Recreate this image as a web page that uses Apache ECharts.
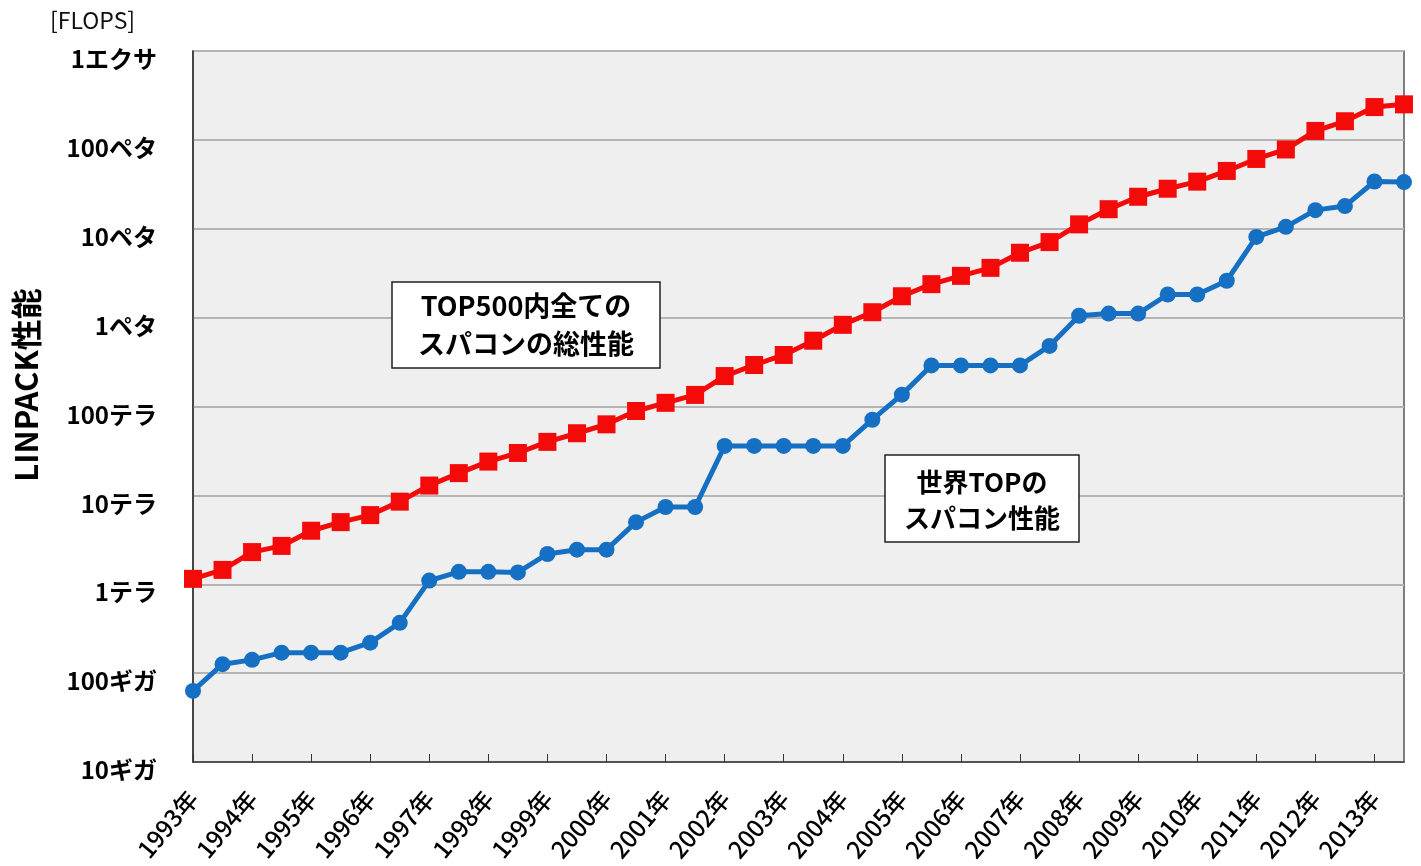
<!DOCTYPE html>
<html>
<head>
<meta charset="utf-8">
<script src="https://cdn.jsdelivr.net/npm/echarts@6/dist/echarts.min.js"></script>
<style>
  html, body { margin: 0; padding: 0; background: #fff; }
  #chart { width: 1421px; height: 866px; }
</style>
</head>
<body>
<div id="chart"></div>
<script>
// TOP500 lists, June and November of each year
var listDates = [];
for (var y = 1993; y <= 2013; y++) {
    listDates.push(y + '/06');
    listDates.push(y + '/11');
}

// TFLOPS
var totalPerf = [1.15, 1.45, 2.3, 2.7, 4.0, 5.0, 6.0, 8.5, 12.9, 17.8, 24, 30, 40, 50,
    63, 89, 110, 135, 220, 293, 380, 550, 830, 1150, 1740, 2380, 2950, 3630, 5370, 7080,
    11200, 16600, 22900, 28200, 33900, 44700, 61000, 78000, 126000, 162000, 234000, 251000];
var topPerf = [0.063, 0.126, 0.141, 0.17, 0.17, 0.17, 0.22, 0.368, 1.10, 1.38, 1.38, 1.36,
    2.19, 2.45, 2.45, 5.0, 7.4, 7.4, 36, 36, 36, 36, 36, 71, 136, 290, 290, 290, 290, 480,
    1050, 1110, 1110, 1820, 1820, 2600, 8100, 10500, 16200, 18000, 34000, 33500];

// y tick labels from 10 GFLOPS (1e10) to 1 EFLOPS (1e18)
var yTickLabels = ['10ギガ', '100ギガ', '1テラ', '10テラ', '100テラ', '1ペタ', '10ペタ', '100ペタ', '1エクサ'];

var FONT = '"Noto Sans CJK JP", "Noto Sans", sans-serif';

function toGiga(arr) {
    return arr.map(function (v) { return v * 1000; });
}

var chart = echarts.init(document.getElementById('chart'));

var option = {
    backgroundColor: '#fff',
    animation: false,
    grid: {
        left: 193,
        top: 51,
        right: 17,
        bottom: 104,
        show: true,
        backgroundColor: '#efefef',
        borderColor: '#555',
        borderWidth: 1.5
    },
    graphic: [
        {
            type: 'text',
            left: 50,
            top: 9,
            style: { text: '[FLOPS]', font: '23px ' + FONT, fill: '#111' }
        },
        {
            // y axis title, placed by hand like the original
            type: 'text',
            x: 26, y: 385,
            rotation: Math.PI / 2,
            style: {
                text: 'LINPACK性能',
                font: 'bold 31px ' + FONT, fill: '#000',
                align: 'center', verticalAlign: 'middle'
            }
        },
        {
            type: 'rect',
            shape: { x: 392, y: 282, width: 268, height: 86 },
            style: { fill: '#fff', stroke: '#222', lineWidth: 1.5 },
            z: 10
        },
        {
            type: 'text',
            x: 526, y: 325,
            style: {
                text: 'TOP500内全ての\nスパコンの総性能',
                font: 'bold 27px ' + FONT, fill: '#000',
                align: 'center', verticalAlign: 'middle', lineHeight: 38
            },
            z: 11
        },
        {
            type: 'rect',
            shape: { x: 885, y: 455, width: 194, height: 87 },
            style: { fill: '#fff', stroke: '#222', lineWidth: 1.5 },
            z: 10
        },
        {
            type: 'text',
            x: 982, y: 500,
            style: {
                text: '世界TOPの\nスパコン性能',
                font: 'bold 26px ' + FONT, fill: '#000',
                align: 'center', verticalAlign: 'middle', lineHeight: 36
            },
            z: 11
        }
    ],
    xAxis: {
        type: 'category',
        data: listDates,
        boundaryGap: false,
        axisLine: { lineStyle: { color: '#333', width: 1.5 } },
        axisTick: { inside: true, interval: 1, length: 8, lineStyle: { color: '#333' } },
        axisLabel: {
            interval: 1,
            rotate: 50,
            margin: 32,
            color: '#000',
            fontFamily: FONT,
            fontSize: 24,
            fontWeight: 500,
            formatter: function (v) { return v.slice(0, 4) + '年'; }
        },
        splitLine: { show: false }
    },
    yAxis: {
        type: 'log',
        logBase: 10,
        min: 10,
        max: 1e9,
        splitNumber: 8,
        axisLine: { show: true, lineStyle: { color: '#333', width: 1.5 } },
        axisTick: { show: false },
        axisLabel: {
            margin: 36,
            color: '#000',
            fontFamily: FONT,
            fontSize: 24,
            fontWeight: 'bold',
            verticalAlign: 'top',
            lineHeight: 16,
            formatter: function (v) {
                var e = Math.round(Math.log10(v)) - 1;
                return yTickLabels[e] || '';
            }
        },
        splitLine: { lineStyle: { color: '#b4b4b4', width: 2 } }
    },
    series: [
        {
            name: 'TOP500内全てのスパコンの総性能',
            type: 'line',
            data: toGiga(totalPerf),
            symbol: 'rect',
            symbolSize: 18,
            lineStyle: { color: '#f50a0a', width: 5 },
            itemStyle: { color: '#f50a0a' },
            z: 3
        },
        {
            name: '世界TOPのスパコン性能',
            type: 'line',
            data: toGiga(topPerf),
            symbol: 'circle',
            symbolSize: 16,
            lineStyle: { color: '#1570c4', width: 5 },
            itemStyle: { color: '#1570c4' },
            z: 3
        }
    ]
};

chart.setOption(option);
</script>
</body>
</html>
